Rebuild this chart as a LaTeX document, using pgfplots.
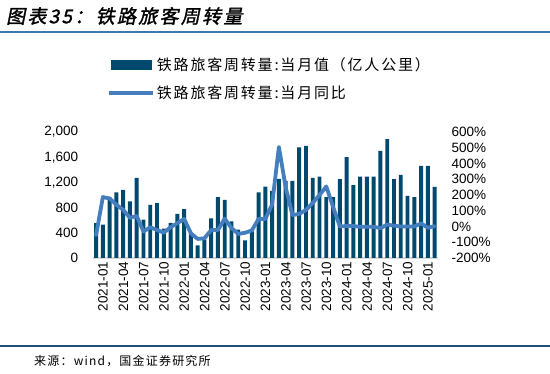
\documentclass[border=0pt]{standalone}
\usepackage{pgfplots}
\usepackage{pgfplotstable}
\pgfplotsset{compat=1.18}
\usepackage{fontspec}
\setmainfont{Liberation Sans}
\newfontfamily\cjk{Noto Sans CJK SC}
\newfontfamily\cjkleg[LetterSpace=12]{Noto Sans CJK SC}
\newfontfamily\cjksrc[LetterSpace=10]{Noto Sans CJK SC}
\newfontfamily\cjktitle[FakeSlant=0.2,FakeBold=1.5,LetterSpace=12]{Noto Sans CJK SC}
\definecolor{barc}{RGB}{0,73,110}
\definecolor{linec}{RGB}{68,126,190}
\definecolor{rulet}{RGB}{60,120,180}
\definecolor{ruleb}{RGB}{31,78,121}
\pgfplotstableread{
x val yoy
0 553 -55
1 528 187
2 960 178
3 1040 138
4 1082 106
5 897 55
6 1272 67
7 608 -32
8 845 -5
9 872 -22
10 466 -39
11 556 -5
12 700 21
13 777 48
14 400 -43
15 202 -79
16 290 -75
17 629 -22
18 967 -22
19 924 50
20 581 -10
21 450 -47
22 281 -40
23 423 -25
24 1040 48
25 1134 48
26 1066 140
27 1255 505
28 1225 250
29 1225 72
30 1755 80
31 1780 105
32 1272 150
33 1293 200
34 967 254
35 967 125
36 1251 0
37 1600 3
38 1157 3
39 1293 -2
40 1293 -2
41 1293 -2
42 1699 -10
43 1888 12
44 1251 5
45 1319 0
46 988 0
47 967 0
48 1462 20
49 1462 -8
50 1130 2
}\data
\begin{document}
\begin{tikzpicture}
\path[use as bounding box] (0,0) rectangle (550pt,374pt);
\draw[rulet, line width=1.6pt] (0,342pt) -- (550pt,342pt);
\draw[ruleb, line width=1.8pt] (0,28pt) -- (550pt,28pt);
\node[anchor=west, inner sep=0pt] at (6pt,358pt) {\cjktitle\fontsize{19}{19}\selectfont 图表35：铁路旅客周转量};
\node[anchor=west, inner sep=0pt] at (34pt,13pt) {\cjksrc\fontsize{12}{12}\selectfont 来源：wind，国金证券研究所};
\begin{axis}[
  at={(92.7pt,116pt)}, anchor=south west,
  width=345.3pt, height=126pt, scale only axis,
  xmin=-0.5, xmax=50.5, ymin=0, ymax=2000,
  ytick={0,400,...,2000},
  xtick={0,3,...,48},
  xticklabels={2021-01,2021-04,2021-07,2021-10,2022-01,2022-04,2022-07,2022-10,2023-01,2023-04,2023-07,2023-10,2024-01,2024-04,2024-07,2024-10,2025-01},
  /pgf/number format/assume math mode=true,
  /pgf/number format/1000 sep={,},
  x tick label style={rotate=90, anchor=east, yshift=-7pt, font=\fontsize{13.5}{13.5}\selectfont},
  y tick label style={xshift=-11pt, font=\fontsize{13.5}{13.5}\selectfont},
  axis x line*=bottom, axis y line*=left,
  x axis line style={draw=black!15, line width=1.5pt, -},
  y axis line style={draw=none},
  major tick length=0pt, tick style={draw=none},
  legend style={at={(0.042,1.61)}, anchor=north west, draw=none, fill=none,
    font=\cjkleg\fontsize{15}{15}\selectfont, row sep=10pt, inner sep=0pt},
  legend cell align=left,
]
\addplot[ybar, bar width=0.58, bar shift=0pt, fill=barc, draw=none, forget plot] table[x=x,y=val]{\data};
\addlegendimage{legend image code/.code={\fill[barc] (0pt,-4.5pt) rectangle (40pt,4.5pt);}}
\addlegendentry{铁路旅客周转量:当月值（亿人公里）}
\addlegendimage{legend image code/.code={\draw[linec,line width=3.5pt] (-2pt,0pt) -- (42pt,0pt);}}
\addlegendentry{铁路旅客周转量:当月同比}
\end{axis}
\begin{axis}[
  at={(92.7pt,116pt)}, anchor=south west,
  width=345.3pt, height=126pt, scale only axis,
  xmin=-0.5, xmax=50.5, ymin=-200, ymax=600,
  ytick={-200,-100,...,600},
  yticklabel={\pgfmathprintnumber{\tick}\%},
  /pgf/number format/assume math mode=true,
  y tick label style={xshift=10pt, font=\fontsize{13.5}{13.5}\selectfont},
  axis y line*=right, hide x axis,
  y axis line style={draw=none},
  major tick length=0pt, tick style={draw=none},
]
\addplot[linec, line width=3.8pt, line join=round, line cap=round] table[x=x,y=yoy]{\data};
\end{axis}
\end{tikzpicture}
\end{document}
